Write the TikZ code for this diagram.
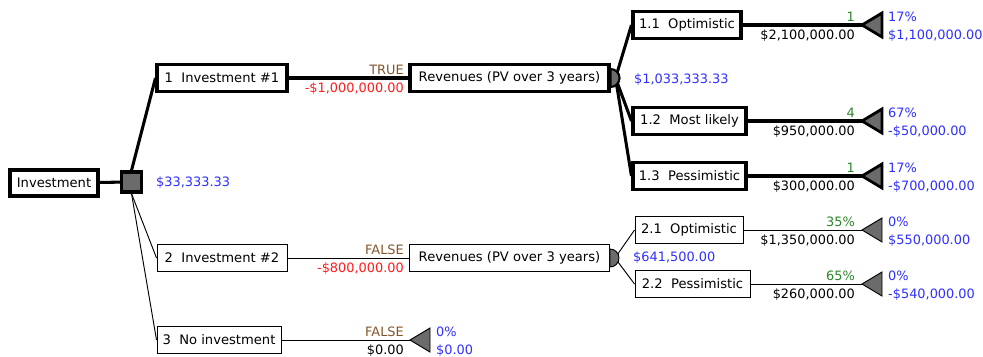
\documentclass[tikz,border=0pt]{standalone}
\usepackage{fontspec}
\setmainfont{DejaVu Sans}
\usepackage{xcolor}
\usepackage{tikz}
\usetikzlibrary{positioning, calc}

\definecolor{valblue}{HTML}{2F2FFF}
\definecolor{costred}{HTML}{FF1A1A}
\definecolor{truebrown}{HTML}{83562A}
\definecolor{probgreen}{HTML}{2A862A}
\definecolor{nodegray}{HTML}{6B6B6B}

\begin{document}
\begin{tikzpicture}[
        x=0.03cm, y=-0.03cm,
        font=\fontsize{11}{13}\selectfont,
        box/.style={rectangle, draw=black, line width=0.8pt, fill=white, minimum height=0.8cm, inner sep=0pt, align=center, font=\fontsize{11.2}{13}\selectfont},
        bold/.style={line width=2.6pt},
        link/.style={line width=0.8pt},
        decision/.style={rectangle, draw=black, line width=2.6pt, fill=nodegray, minimum size=0.6cm, inner sep=0pt},
        chance/.style={fill=nodegray, draw=black},
        above label/.style={anchor=base east, inner sep=0pt},
        value label/.style={anchor=base west, inner sep=0pt, text=valblue},
        leaf/.pic={\filldraw[fill=nodegray] (0,0) -- (20,-12) -- (20,12) -- cycle;}
    ]
    \useasboundingbox (0,0) rectangle (983,356);

    % decision node and its three options
    \node[box, bold, minimum width=2.64cm, minimum height=0.78cm] (root) at (54,183) {Investment};
    \node[decision] (dec) at (131.5,182) {};
    \node[value label, anchor=west] (ev) at (156,183) {\$33,333.33};

    \node[box, bold, minimum width=3.9cm] (inv1) at (222,78) {1\ \ Investment \#1};
    \node[box, minimum width=3.9cm] (inv2) at (222,258) {2\ \ Investment \#2};
    \node[box, minimum width=3.72cm] (inv3) at (219,340) {3\ \ No investment};

    \draw[bold] (root) -- (dec);
    \draw[bold] (dec.north) -- (inv1.west);
    \draw[link] (dec.south) -- (inv2.west);
    \draw[link] (dec.south) -- (inv3.west);

    % revenue chance nodes
    \node[box, bold, minimum width=5.97cm] (rev1) at (509.5,78) {Revenues (PV over 3 years)};
    \node[box, minimum width=6cm] (rev2) at (509.5,258) {Revenues (PV over 3 years)};
    \coordinate (t3) at (410,340);

    \draw[bold] (inv1) -- (rev1);
    \draw[link] (inv2) -- (rev2);
    \draw[link] (inv3) -- (t3);

    \node[above label, text=truebrown] (b1) at (404,74) {TRUE};
    \node[above label, text=costred] (c1) at (404,92) {-\$1,000,000.00};
    \node[above label, text=truebrown] (b2) at (404,254) {FALSE};
    \node[above label, text=costred] (c2) at (404,272) {-\$800,000.00};
    \node[above label, text=truebrown] (b3) at (404,336) {FALSE};
    \node[above label] (c3) at (404,354) {\$0.00};
    \pic[line width=0.8pt] at (t3) {leaf};
    \node[value label] (pc3) at (436,336) {0\%};
    \node[value label] (v3) at (436,354) {\$0.00};

    % outcomes of investment 1
    \node[box, bold, minimum width=3.24cm] (o11) at (687,25) {1.1\ \ Optimistic};
    \node[box, bold, minimum width=3.39cm] (o12) at (689.5,121) {1.2\ \ Most likely};
    \node[box, bold, minimum width=3.39cm] (o13) at (689.5,176) {1.3\ \ Pessimistic};
    \coordinate (s1) at ($(rev1.east)+(5,0)$);
    \draw[bold] (s1) -- (o11.west);
    \draw[bold] (s1) -- (o12.west);
    \draw[bold] (s1) -- (o13.west);
    \filldraw[chance, line width=1.8pt] (rev1.east) ++(0,-9) arc[start angle=90, end angle=-90, x radius=0.27cm, y radius=0.27cm] -- cycle;
    \node[value label, anchor=west] (ev1) at (634,80) {\$1,033,333.33};

    \coordinate (t11) at (862,25);
    \coordinate (t12) at (862,121);
    \coordinate (t13) at (862,176);
    \draw[bold] (o11) -- (t11);
    \draw[bold] (o12) -- (t12);
    \draw[bold] (o13) -- (t13);
    \pic[line width=2.4pt] at (t11) {leaf};
    \pic[line width=2.4pt] at (t12) {leaf};
    \pic[line width=2.4pt] at (t13) {leaf};

    \node[above label, text=probgreen] (p11) at (855,21) {1};
    \node[above label] (x11) at (855,39) {\$2,100,000.00};
    \node[value label] (pc11) at (888,21) {17\%};
    \node[value label] (v11) at (888,39) {\$1,100,000.00};
    \node[above label, text=probgreen] (p12) at (855,117) {4};
    \node[above label] (x12) at (855,135) {\$950,000.00};
    \node[value label] (pc12) at (888,117) {67\%};
    \node[value label] (v12) at (888,135) {-\$50,000.00};
    \node[above label, text=probgreen] (p13) at (855,172) {1};
    \node[above label] (x13) at (855,190) {\$300,000.00};
    \node[value label] (pc13) at (888,172) {17\%};
    \node[value label] (v13) at (888,190) {-\$700,000.00};

    % outcomes of investment 2
    \node[box, minimum width=3.24cm] (o21) at (689,230) {2.1\ \ Optimistic};
    \node[box, minimum width=3.45cm] (o22) at (692.5,284) {2.2\ \ Pessimistic};
    \coordinate (s2) at ($(rev2.east)+(5,0)$);
    \draw[link] (s2) -- (o21.west);
    \draw[link] (s2) -- (o22.west);
    \filldraw[chance, line width=0.8pt] (rev2.east) ++(0,-9) arc[start angle=90, end angle=-90, x radius=0.27cm, y radius=0.27cm] -- cycle;
    \node[value label, anchor=west] (ev2) at (633,258) {\$641,500.00};

    \coordinate (t21) at (862,230);
    \coordinate (t22) at (862,284);
    \draw[link] (o21) -- (t21);
    \draw[link] (o22) -- (t22);
    \pic[line width=0.8pt] at (t21) {leaf};
    \pic[line width=0.8pt] at (t22) {leaf};

    \node[above label, text=probgreen] (p21) at (855,226) {35\%};
    \node[above label] (x21) at (855,244) {\$1,350,000.00};
    \node[value label] (pc21) at (888,226) {0\%};
    \node[value label] (v21) at (888,244) {\$550,000.00};
    \node[above label, text=probgreen] (p22) at (855,280) {65\%};
    \node[above label] (x22) at (855,298) {\$260,000.00};
    \node[value label] (pc22) at (888,280) {0\%};
    \node[value label] (v22) at (888,298) {-\$540,000.00};

\end{tikzpicture}
\end{document}
